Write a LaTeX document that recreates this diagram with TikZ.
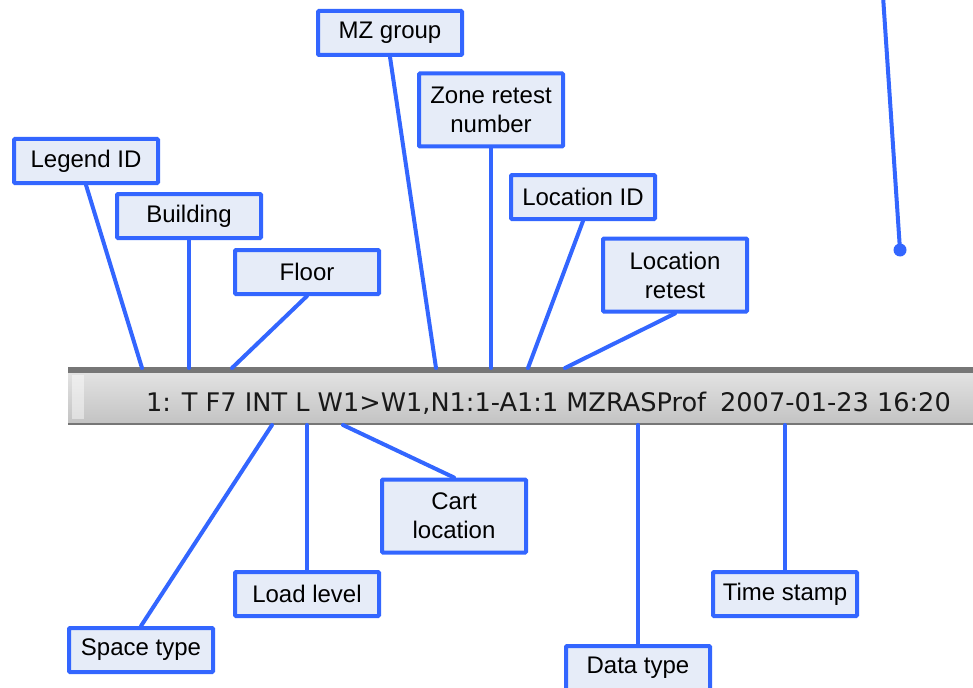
\documentclass[tikz,border=0pt]{standalone}
\usepackage{fontspec}
\setmainfont{Liberation Sans}
\newfontfamily\barfont{DejaVu Sans}
\usetikzlibrary{positioning}
\definecolor{calloutblue}{RGB}{51,102,255}
\definecolor{calloutfill}{RGB}{230,236,248}
\definecolor{bardark}{RGB}{118,118,118}
\definecolor{bartop}{RGB}{226,226,226}
\definecolor{barbottom}{RGB}{196,196,196}

\begin{document}
\begin{tikzpicture}[x=1pt, y=-1pt,
        box/.style={rectangle, draw=calloutblue, fill=calloutfill, line width=4pt, rounded corners=1pt,
            minimum width=144pt, minimum height=44pt, align=center, inner sep=0pt,
            font=\fontsize{24}{29}\selectfont},
        tallbox/.style={box, minimum height=73pt},
        lead/.style={draw=calloutblue, line width=4pt, line cap=round}
    ]
        \useasboundingbox (0,0) rectangle (973,687);
        % status bar strip
        \fill[bardark] (68,367) rectangle (980,425);
        \shade[top color=bartop, bottom color=barbottom] (68,373) rectangle (980,422);
        \fill[white, opacity=0.45] (72,375) rectangle (84,419);
        \node[anchor=base west, inner sep=0pt, text=black!90, font=\barfont\fontsize{25.6}{27}\selectfont]
            (status) at (146,411) {1: T F7 INT L W1>W1,N1:1-A1:1 MZRASProf\hspace{14pt}2007-01-23 16:20};
        % pins on the bar edges
        \coordinate (legendpin) at (142,368);
        \coordinate (buildingpin) at (189,368);
        \coordinate (floorpin) at (232,368);
        \coordinate (mzpin) at (436,368);
        \coordinate (zonepin) at (491,368);
        \coordinate (locpin) at (528,368);
        \coordinate (locretpin) at (565,368);
        \coordinate (spacepin) at (272,425);
        \coordinate (loadpin) at (307,425);
        \coordinate (cartpin) at (343,425);
        \coordinate (datapin) at (638,425);
        \coordinate (timepin) at (785,425);
        % callouts above the bar
        \node[box] (mz) at (390,33) {MZ group};
        \node[tallbox] (zone) at (491,110) {Zone retest\\number};
        \node[box] (legend) at (86,161) {Legend ID};
        \node[box] (building) at (189,216) {Building};
        \node[box] (floor) at (307,272) {Floor};
        \node[box] (locid) at (583,197) {Location ID};
        \node[tallbox] (locret) at (675,275) {Location\\retest};
        % callouts below the bar
        \node[tallbox] (cart) at (454,516) {Cart\\location};
        \node[box] (load) at (307,594) {Load level};
        \node[box] (space) at (141,650) {Space type};
        \node[box] (data) at (638,668) {Data type};
        \node[box] (time) at (785,594) {Time stamp};
        % leaders
        \draw[lead] (legend.south) -- (legendpin);
        \draw[lead] (building.south) -- (buildingpin);
        \draw[lead] (floor.south) -- (floorpin);
        \draw[lead] (mz.south) -- (mzpin);
        \draw[lead] (zone.south) -- (zonepin);
        \draw[lead] (locid.south) -- (locpin);
        \draw[lead] (locret.south) -- (locretpin);
        \draw[lead] (space.north) -- (spacepin);
        \draw[lead] (load.north) -- (loadpin);
        \draw[lead] (cart.north) -- (cartpin);
        \draw[lead] (data.north) -- (datapin);
        \draw[lead] (time.north) -- (timepin);
        % stray leader with dot end
        \coordinate (strayend) at (883,-4);
        \node[circle, fill=calloutblue, inner sep=0pt, minimum size=13pt] (dot) at (900,250) {};
        \draw[lead] (strayend) -- (dot.center);
    \end{tikzpicture}
\end{document}
